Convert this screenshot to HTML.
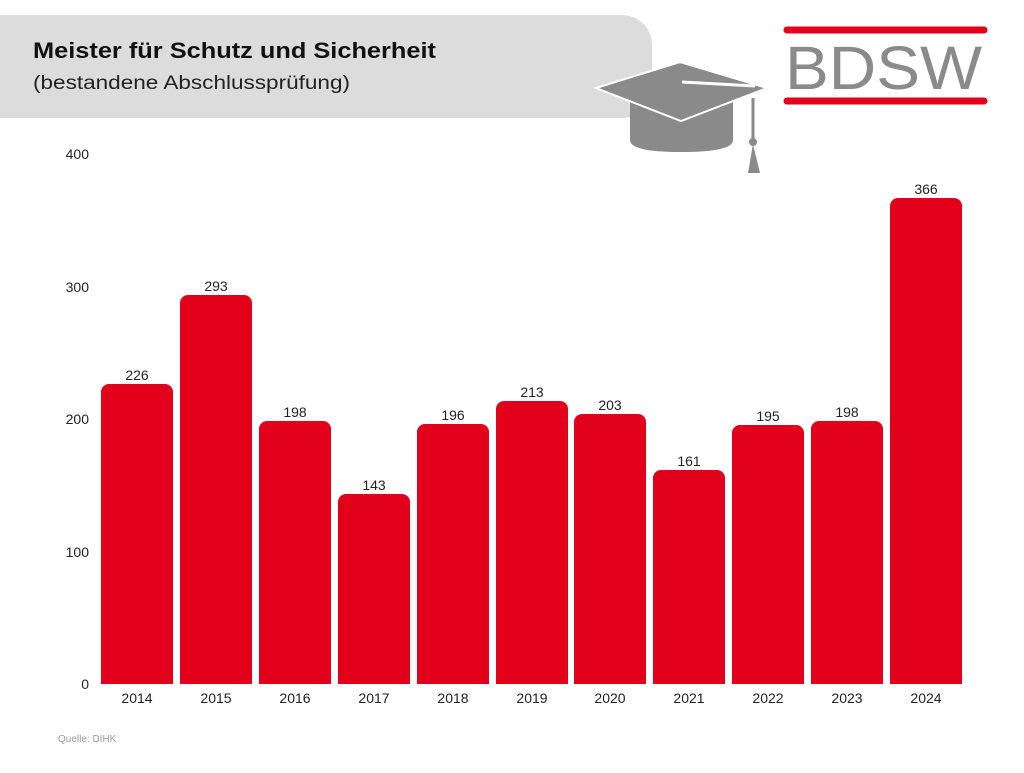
<!DOCTYPE html>
<html><head><meta charset="utf-8"><style>
body{margin:0;background:#fff;width:1024px;height:768px;overflow:hidden;font-family:"Liberation Sans",sans-serif}
</style></head><body>
<svg width="1024" height="768" xmlns="http://www.w3.org/2000/svg" font-family="Liberation Sans, sans-serif">
<path d="M0 15 H622 A30 30 0 0 1 652 45 V88 A30 30 0 0 1 622 118 H0 Z" fill="#dcdcdc"/>
<text x="33" y="58" font-size="22" font-weight="bold" fill="#111" textLength="403" lengthAdjust="spacingAndGlyphs">Meister für Schutz und Sicherheit</text>
<text x="33" y="89" font-size="19" fill="#222" textLength="317" lengthAdjust="spacingAndGlyphs">(bestandene Abschlussprüfung)</text>
<!-- cap -->
<path d="M630 100 H733 V140 Q733 152 681 152 Q630 152 630 140 Z" fill="#8a8a8a"/>
<polygon points="596,88 680,62 767,88 681,121" fill="#8a8a8a" stroke="#fff" stroke-width="2"/>
<line x1="682" y1="82" x2="755" y2="86" stroke="#fff" stroke-width="3"/>
<line x1="753" y1="98" x2="753" y2="140" stroke="#8a8a8a" stroke-width="3"/>
<circle cx="753" cy="142" r="4" fill="#8a8a8a"/>
<polygon points="753,144 748,173 760,173" fill="#8a8a8a"/>
<!-- logo -->
<line x1="787" y1="30" x2="984" y2="30" stroke="#e2001a" stroke-width="7" stroke-linecap="round"/>
<line x1="787" y1="101" x2="984" y2="101" stroke="#e2001a" stroke-width="7" stroke-linecap="round"/>
<text x="785" y="89" font-size="61" fill="#8a8a8a" textLength="197" lengthAdjust="spacingAndGlyphs">BDSW</text>
<!-- axis labels -->
<g font-size="14" fill="#222" text-anchor="end">
<text x="89" y="159">400</text><text x="89" y="292">300</text><text x="89" y="424">200</text><text x="89" y="557">100</text><text x="89" y="689">0</text>
</g>
<g fill="#e2001a">
<path d="M101 684 V392 A8 8 0 0 1 109 384 H165 A8 8 0 0 1 173 392 V684 Z"/>
<path d="M180 684 V303 A8 8 0 0 1 188 295 H244 A8 8 0 0 1 252 303 V684 Z"/>
<path d="M259 684 V429 A8 8 0 0 1 267 421 H323 A8 8 0 0 1 331 429 V684 Z"/>
<path d="M338 684 V502 A8 8 0 0 1 346 494 H402 A8 8 0 0 1 410 502 V684 Z"/>
<path d="M417 684 V432 A8 8 0 0 1 425 424 H481 A8 8 0 0 1 489 432 V684 Z"/>
<path d="M496 684 V409 A8 8 0 0 1 504 401 H560 A8 8 0 0 1 568 409 V684 Z"/>
<path d="M574 684 V422 A8 8 0 0 1 582 414 H638 A8 8 0 0 1 646 422 V684 Z"/>
<path d="M653 684 V478 A8 8 0 0 1 661 470 H717 A8 8 0 0 1 725 478 V684 Z"/>
<path d="M732 684 V433 A8 8 0 0 1 740 425 H796 A8 8 0 0 1 804 433 V684 Z"/>
<path d="M811 684 V429 A8 8 0 0 1 819 421 H875 A8 8 0 0 1 883 429 V684 Z"/>
<path d="M890 684 V206 A8 8 0 0 1 898 198 H954 A8 8 0 0 1 962 206 V684 Z"/>
</g>
<g font-size="14" fill="#222" text-anchor="middle">
<text x="137" y="380">226</text><text x="216" y="291">293</text><text x="295" y="417">198</text><text x="374" y="490">143</text><text x="453" y="420">196</text><text x="532" y="397">213</text><text x="610" y="410">203</text><text x="689" y="466">161</text><text x="768" y="421">195</text><text x="847" y="417">198</text><text x="926" y="194">366</text>
<text x="137" y="703">2014</text><text x="216" y="703">2015</text><text x="295" y="703">2016</text><text x="374" y="703">2017</text><text x="453" y="703">2018</text><text x="532" y="703">2019</text><text x="610" y="703">2020</text><text x="689" y="703">2021</text><text x="768" y="703">2022</text><text x="847" y="703">2023</text><text x="926" y="703">2024</text>
</g>
<text x="58" y="742" font-size="10" fill="#999">Quelle: DIHK</text>
</svg>
</body></html>
